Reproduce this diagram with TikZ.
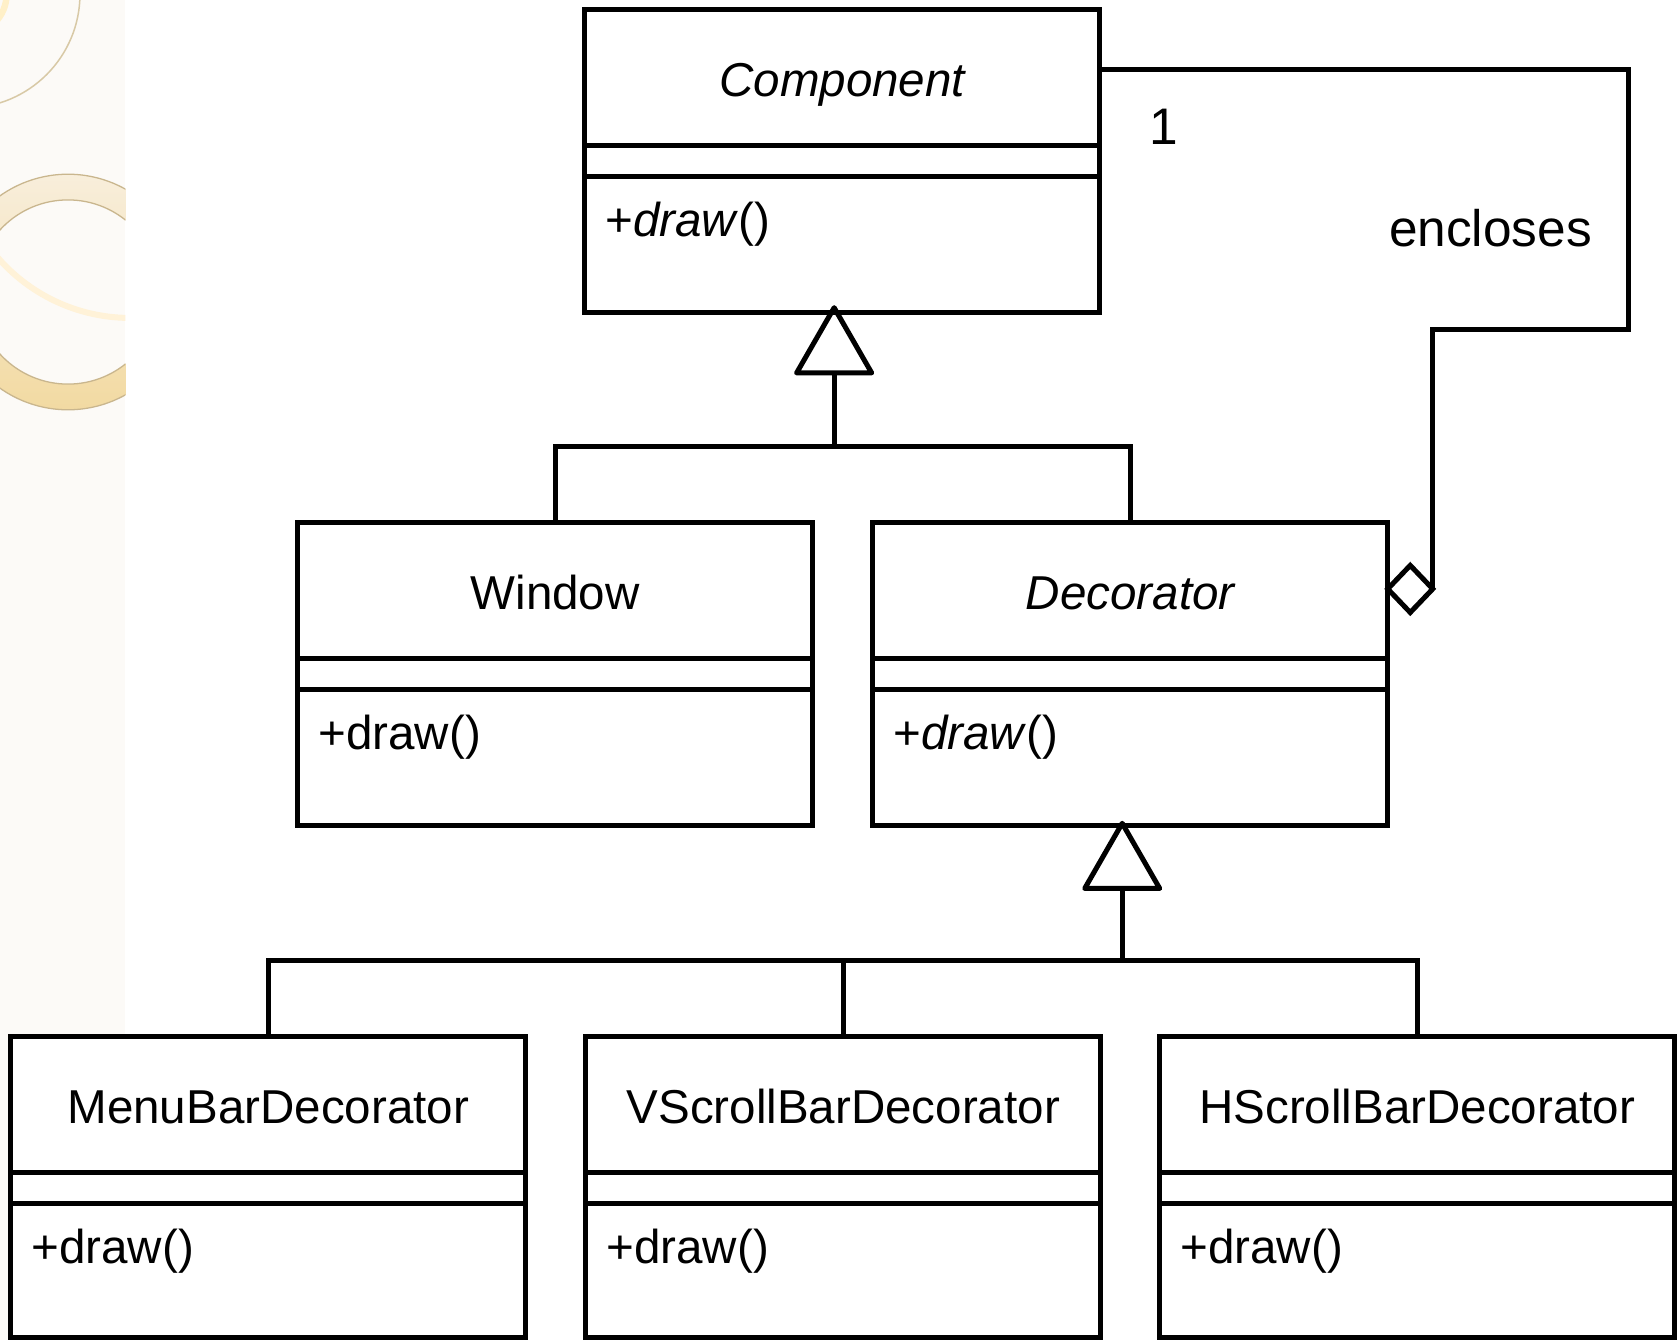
\documentclass[tikz,border=0pt]{standalone}
\usepackage{fontspec}
\setmainfont{Liberation Sans}
\usetikzlibrary{arrows.meta,shapes.geometric}

\definecolor{paper}{HTML}{FCFAF7}
\definecolor{ringline}{HTML}{C9B68E}
\definecolor{ringtop}{HTML}{F8EEDB}
\definecolor{ringgold}{HTML}{F2DAA2}
\definecolor{creamarc}{HTML}{FFF2D8}
\definecolor{creamcorner}{HTML}{FFF0C8}
\definecolor{thinarc}{HTML}{D8C9A6}

\tikzset{
  umlline/.style={line width=2.35pt},
  classbox/.style={draw, umlline, fill=white, inner sep=0pt, outer sep=0pt,
    anchor=north west, minimum width=240.5pt},
  classname/.style={inner sep=0pt, anchor=base, font=\fontsize{22.2}{26}\selectfont},
  classop/.style={inner sep=0pt, anchor=base west, font=\fontsize{22.2}{26}\selectfont},
  inherit/.style={umlline,
    -{Triangle[open, round, length=34pt, width=38.5pt, line width=2.35pt]}},
  assoclabel/.style={inner sep=0pt, font=\fontsize{24}{28}\selectfont},
}

% UML class: name, left, top, height, class name, operation
\newcommand\umlclass[6]{%
  \node[classbox, minimum height={#4*0.5pt}] (#1) at (#2,#3) {};
  \draw[umlline] ([yshift=-63.5pt]#1.north west) -- ([yshift=-63.5pt]#1.north east)
                 ([yshift=-78pt]#1.north west) -- ([yshift=-78pt]#1.north east);
  \node[classname] (#1-name) at ([yshift=-40.75pt]#1.north) {#5};
  \node[classop] (#1-op) at ([xshift=9.5pt,yshift=-105.75pt]#1.north west) {#6};
}

\begin{document}
\begin{tikzpicture}[x=0.5pt, y=-0.5pt]
  \useasboundingbox (0,0) rectangle (1568,1251);
  \fill[white] (0,0) rectangle (1568,1251);

  % decorative strip on the left
  \fill[paper] (0,0) rectangle (117,1251);
  \begin{scope}
    \clip (0,0) rectangle (117,1251);
    \shadedraw[top color=ringtop, bottom color=ringgold, draw=ringline,
      line width=0.6pt, even odd rule]
      (63.5,272.7) circle[radius=110] (63.5,272.7) circle[radius=86];
    \draw[creamarc, line width=2.8pt]
      (121.4,133.5) ++(80:163.4) arc[start angle=80, end angle=150, radius=163.4];
    \draw[thinarc, line width=0.7pt] (-31.8,-5.6) circle[radius=106.5];
    \draw[creamcorner, line width=3pt] (-31.8,-5.6) circle[radius=38];
  \end{scope}

  % classes
  \umlclass{Component}{546}{9}{283}{\itshape Component}{+\textit{draw}()}
  \umlclass{Window}{278}{488}{283}{Window}{+draw()}
  \umlclass{Decorator}{815}{488}{283}{\itshape Decorator}{+\textit{draw}()}
  \umlclass{MenuBar}{10}{968}{281}{MenuBarDecorator}{+draw()}
  \umlclass{VScroll}{547}{968}{281}{VScrollBarDecorator}{+draw()}
  \umlclass{HScroll}{1083}{968}{281}{HScrollBarDecorator}{+draw()}

  % generalisation trees
  \coordinate (busA) at (779,417);
  \coordinate (busB) at (1048,897);
  \draw[umlline] (Window.north) |- (busA) -| (Decorator.north);
  \draw[inherit] (busA) -- ([yshift=3.5pt]Component.south -| busA);
  \draw[umlline] (MenuBar.north) |- (busB) -| (HScroll.north);
  \draw[umlline] (VScroll.north) -- (VScroll.north |- busB);
  \draw[inherit] (busB) -- ([yshift=2.25pt]Decorator.south -| busB);

  % aggregation Decorator <>-- Component
  \node[diamond, draw, umlline, fill=white, inner sep=0pt, outer sep=0pt,
    minimum width=21pt, minimum height=22pt, anchor=west]
    (agg) at (Decorator.east |- 0,550) {};
  \draw[umlline] (Component.east |- 0,65) -- (1521,65)
    |- (agg.east |- 0,308) -- (agg.east);
  \node[assoclabel] (mult) at (1087,118) {1};
  \node[assoclabel] (role) at (1392,213) {encloses};
\end{tikzpicture}
\end{document}
